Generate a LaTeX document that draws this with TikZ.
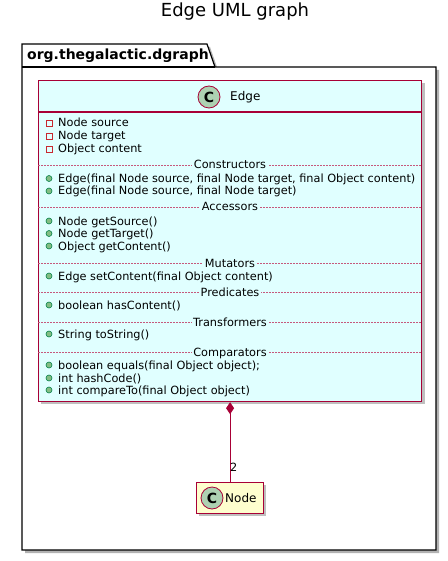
\documentclass[tikz,border=0pt]{standalone}
\usepackage{fontspec}
\setmainfont{DejaVu Sans}
\usetikzlibrary{arrows.meta}
\definecolor{umlred}{HTML}{A80036}
\definecolor{cyanfill}{HTML}{E0FFFF}
\definecolor{yellowfill}{HTML}{FEFECE}
\definecolor{circfill}{HTML}{ADD1B2}
\definecolor{privred}{HTML}{C82930}
\definecolor{pubgreen}{HTML}{038048}
\definecolor{pubfill}{HTML}{84BE84}
\begin{document}
\begin{tikzpicture}[x=1pt,y=-1pt,
  member/.style={anchor=base west, font=\fontsize{11.3}{13}\selectfont, inner sep=0pt},
  septext/.style={anchor=base, font=\fontsize{11.3}{13}\selectfont, fill=cyanfill, inner xsep=1.5pt, inner ysep=0.5pt},
  sepline/.style={draw=umlred!65, line width=0.6pt, dash pattern=on 1.5pt off 1.5pt},
  privmark/.style={rectangle, draw=privred, fill=none, minimum size=6pt, inner sep=0pt, line width=0.8pt},
  pubmark/.style={circle, draw=pubgreen, fill=pubfill, minimum size=6pt, inner sep=0pt, line width=0.6pt},
  classbox/.style={draw=umlred, line width=1.2pt, anchor=north west, inner sep=0pt},
  shadowbox/.style={fill=black!25},
  ccircle/.style={circle, draw=umlred, fill=circfill, minimum size=22pt, inner sep=0pt, line width=0.8pt, font=\bfseries\fontsize{14}{14}\selectfont},
]
\useasboundingbox (0,0) rectangle (447,561);
\fill[white] (0,0) rectangle (447,561);

% title
\node[anchor=base, inner sep=0pt, font=\fontsize{18}{20}\selectfont] (title) at (235,17) {Edge UML graph};

% package
\fill[black!30] (25,47) -- (210,47) -- (218,70) -- (439,70) -- (439,553) -- (25,553) -- cycle;
\draw[fill=white, line width=1.2pt] (22,44) -- (207,44) -- (215,67) -- (436,67) -- (436,550) -- (22,550) -- cycle;
\draw[line width=1.2pt] (22,67) -- (215,67);
\node[anchor=base west, inner sep=0pt, font=\bfseries\fontsize{14}{16}\selectfont] (pkg) at (27,60) {org.thegalactic.dgraph};

% Edge class
\fill[shadowbox] (41,83) rectangle (425,404);
\node[classbox, fill=cyanfill, minimum width=383pt, minimum height=321pt] (edgebox) at (38,80) {};
\draw[umlred, line width=1.2pt] (38,112) -- (421,112);
\node[ccircle] (edgec) at (209,97) {C};
\node[anchor=base west, inner sep=0pt, font=\fontsize{12}{14}\selectfont] (edgename) at (230,101) {Edge};

% attributes
\node[privmark] (m1) at (49,123) {};
\node[member] (t1) at (58,127) {Node source};
\node[privmark] (m2) at (49,136) {};
\node[member] (t2) at (58,140) {Node target};
\node[privmark] (m3) at (49,149) {};
\node[member] (t3) at (58,153) {Object content};

% Constructors
\draw[sepline] (38,165.5) -- (421,165.5);
\node[septext] (s1) at (230,169) {Constructors};
\node[pubmark] (m4) at (49,178.5) {};
\node[member] (t4) at (58,182.5) {Edge(final Node source, final Node target, final Object content)};
\node[pubmark] (m5) at (49,191) {};
\node[member] (t5) at (58,195) {Edge(final Node source, final Node target)};

% Accessors
\draw[sepline] (38,207.5) -- (421,207.5);
\node[septext] (s2) at (230,211) {Accessors};
\node[pubmark] (m6) at (49,221) {};
\node[member] (t6) at (58,225) {Node getSource()};
\node[pubmark] (m7) at (49,233.5) {};
\node[member] (t7) at (58,237.5) {Node getTarget()};
\node[pubmark] (m8) at (49,246) {};
\node[member] (t8) at (58,250) {Object getContent()};

% Mutators
\draw[sepline] (38,263.5) -- (421,263.5);
\node[septext] (s3) at (230,267) {Mutators};
\node[pubmark] (m9) at (49,276) {};
\node[member] (t9) at (58,280) {Edge setContent(final Object content)};

% Predicates
\draw[sepline] (38,292.5) -- (421,292.5);
\node[septext] (s4) at (230,296) {Predicates};
\node[pubmark] (m10) at (49,305) {};
\node[member] (t10) at (58,309) {boolean hasContent()};

% Transformers
\draw[sepline] (38,322.5) -- (421,322.5);
\node[septext] (s5) at (230,326) {Transformers};
\node[pubmark] (m11) at (49,334) {};
\node[member] (t11) at (58,338) {String toString()};

% Comparators
\draw[sepline] (38,352.5) -- (421,352.5);
\node[septext] (s6) at (230,356) {Comparators};
\node[pubmark] (m12) at (49,365) {};
\node[member] (t12) at (58,369) {boolean equals(final Object object);};
\node[pubmark] (m13) at (49,378) {};
\node[member] (t13) at (58,382) {int hashCode()};
\node[pubmark] (m14) at (49,390) {};
\node[member] (t14) at (58,394) {int compareTo(final Object object)};

% Node class
\fill[shadowbox] (199,485) rectangle (266,516);
\node[classbox, fill=yellowfill, minimum width=67pt, minimum height=31pt] (nodebox) at (196,482) {};
\node[ccircle] (nodec) at (212,498) {C};
\node[anchor=base west, inner sep=0pt, font=\fontsize{12}{14}\selectfont] (nodename) at (225,502) {Node};

% composition
\draw[umlred, line width=1pt, {Diamond[length=12pt,width=8pt,fill=umlred]}-] (edgebox.south) -- (nodebox.north);
\node[anchor=base west, inner sep=0pt, font=\fontsize{11.3}{13}\selectfont] (mult) at (230,471) {2};
\end{tikzpicture}
\end{document}
